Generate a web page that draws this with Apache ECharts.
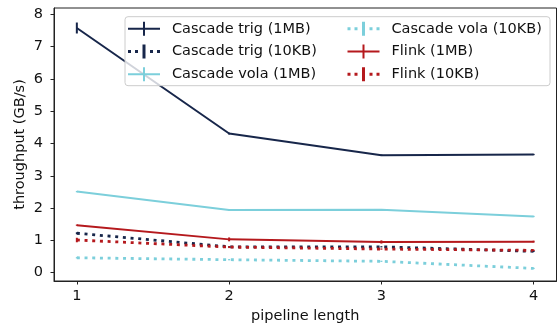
<!DOCTYPE html>
<html>
<head>
<meta charset="utf-8">
<script src="https://cdn.jsdelivr.net/npm/echarts@6/dist/echarts.min.js"></script>
<style>html,body{margin:0;padding:0;background:#fff}#c{width:558px;height:329px}</style>
</head>
<body>
<div id="c"></div>
<script>
const pipelineLengths = [1, 2, 3, 4];
const xTicks = [1, 2, 3, 4];
const yTicks = [0, 1, 2, 3, 4, 5, 6, 7, 8];

const cascadeTrig1MB = [7.58, 4.31, 3.64, 3.66];
const cascadeTrig1MBErr = [0.17, 0.03, 0.02, 0.02];
const cascadeTrig10KB = [1.22, 0.80, 0.80, 0.66];
const cascadeTrig10KBErr = [0.03, 0.02, 0.02, 0.02];
const cascadeVola1MB = [2.51, 1.94, 1.95, 1.74];
const cascadeVola1MBErr = [0.02, 0.02, 0.02, 0.02];
const cascadeVola10KB = [0.46, 0.40, 0.35, 0.13];
const cascadeVola10KBErr = [0.02, 0.02, 0.02, 0.02];
const flink1MB = [1.47, 1.03, 0.95, 0.96];
const flink1MBErr = [0.02, 0.06, 0.05, 0.03];
const flink10KB = [1.01, 0.79, 0.73, 0.69];
const flink10KBErr = [0.07, 0.03, 0.02, 0.02];

const NAVY = '#17264a', CYAN = '#7ccfdb', RED = '#b5191d';
const FONT = 'DejaVu Sans';
const FS = 14.5;

const seriesDefs = [
  {name: 'Cascade trig (1MB)', data: cascadeTrig1MB, err: cascadeTrig1MBErr, color: NAVY, dotted: false},
  {name: 'Cascade trig (10KB)', data: cascadeTrig10KB, err: cascadeTrig10KBErr, color: NAVY, dotted: true},
  {name: 'Cascade vola (1MB)', data: cascadeVola1MB, err: cascadeVola1MBErr, color: CYAN, dotted: false},
  {name: 'Cascade vola (10KB)', data: cascadeVola10KB, err: cascadeVola10KBErr, color: CYAN, dotted: true},
  {name: 'Flink (1MB)', data: flink1MB, err: flink1MBErr, color: RED, dotted: false},
  {name: 'Flink (10KB)', data: flink10KB, err: flink10KBErr, color: RED, dotted: true}
];

const solidIcon = 'path://M0,6h32v2h-32z M15,0h2v14h-2z';
const dottedIcon = 'path://M0,5.5h3v3h-3z M7,5.5h3v3h-3z M14.5,0h3v14h-3z M22,5.5h3v3h-3z M29,5.5h3v3h-3z';

const series = [];
seriesDefs.forEach(function (s) {
  series.push({
    name: s.name,
    type: 'line',
    data: pipelineLengths.map(function (x, i) { return [x, s.data[i]]; }),
    symbol: 'none',
    color: s.color,
    z: 2,
    lineStyle: {width: s.dotted ? 2.8 : 2, color: s.color, type: s.dotted ? [3, 4.7] : 'solid', cap: 'butt'},
    emphasis: {disabled: true},
    animation: false
  });
  series.push({
    name: s.name,
    type: 'custom',
    data: pipelineLengths.map(function (x, i) { return [x, s.data[i] - s.err[i], s.data[i] + s.err[i]]; }),
    z: 3,
    silent: true,
    animation: false,
    renderItem: function (params, api) {
      const lo = api.coord([api.value(0), api.value(1)]);
      const hi = api.coord([api.value(0), api.value(2)]);
      return {type: 'line', shape: {x1: lo[0], y1: lo[1], x2: hi[0], y2: hi[1]},
        style: {stroke: s.color, lineWidth: 2}};
    }
  });
});

function legendData(defs) {
  return defs.map(function (s) {
    return {name: s.name, icon: s.dotted ? dottedIcon : solidIcon, itemStyle: {color: s.color}};
  });
}

const legendText = {fontFamily: FONT, fontSize: FS, lineHeight: 14, color: '#111', padding: [0, 0, 0, 7]};

const option = {
  animation: false,
  textStyle: {fontFamily: FONT},
  grid: {left: 54, right: 1.5, top: 8, bottom: 47.3, show: true, borderColor: '#222', borderWidth: 1, backgroundColor: 'transparent'},
  graphic: [{
    type: 'rect', z: 3, zlevel: 0,
    shape: {x: 125, y: 16.7, width: 425, height: 69, r: 3},
    style: {fill: 'rgba(255,255,255,0.8)', stroke: '#cccccc', lineWidth: 1}
  }],
  legend: [
    {left: 128, top: 21.3, orient: 'vertical', itemWidth: 32, itemHeight: 14, itemGap: 7.7, padding: 0,
     data: legendData(seriesDefs.filter(function (s, i) { return [0, 1, 2].indexOf(i) >= 0; })),
     textStyle: legendText, selectedMode: false, z: 5},
    {left: 347.5, top: 21.3, orient: 'vertical', itemWidth: 32, itemHeight: 14, itemGap: 7.7, padding: 0,
     data: legendData(seriesDefs.filter(function (s, i) { return [3, 4, 5].indexOf(i) >= 0; })),
     textStyle: legendText, selectedMode: false, z: 5}
  ],
  xAxis: {
    type: 'value', min: 0.85, max: 4.15,
    name: 'pipeline length', nameLocation: 'middle', nameGap: 28, nameMoveOverlap: false,
    nameTextStyle: {fontFamily: FONT, fontSize: FS, color: '#111'},
    axisLine: {show: true, onZero: false, lineStyle: {color: '#222', width: 1}},
    axisTick: {show: true, inside: false, length: 3.5, customValues: xTicks, lineStyle: {color: '#222', width: 1}},
    axisLabel: {customValues: xTicks, margin: 8, fontFamily: FONT, fontSize: FS, color: '#111'},
    splitLine: {show: false}
  },
  yAxis: {
    type: 'value', min: -0.26, max: 8.2,
    name: 'throughput (GB/s)', nameLocation: 'middle', nameGap: 26, nameRotate: 90, nameMoveOverlap: false,
    nameTextStyle: {fontFamily: FONT, fontSize: FS, color: '#111'},
    axisLine: {show: true, onZero: false, lineStyle: {color: '#222', width: 1}},
    axisTick: {show: true, inside: false, length: 3.5, customValues: yTicks, lineStyle: {color: '#222', width: 1}},
    axisLabel: {customValues: yTicks, margin: 11, fontFamily: FONT, fontSize: FS, color: '#111'},
    splitLine: {show: false}
  },
  series: series
};

const chart = echarts.init(document.getElementById('c'), null, {renderer: 'canvas'});
chart.setOption(option);
</script>
</body>
</html>
